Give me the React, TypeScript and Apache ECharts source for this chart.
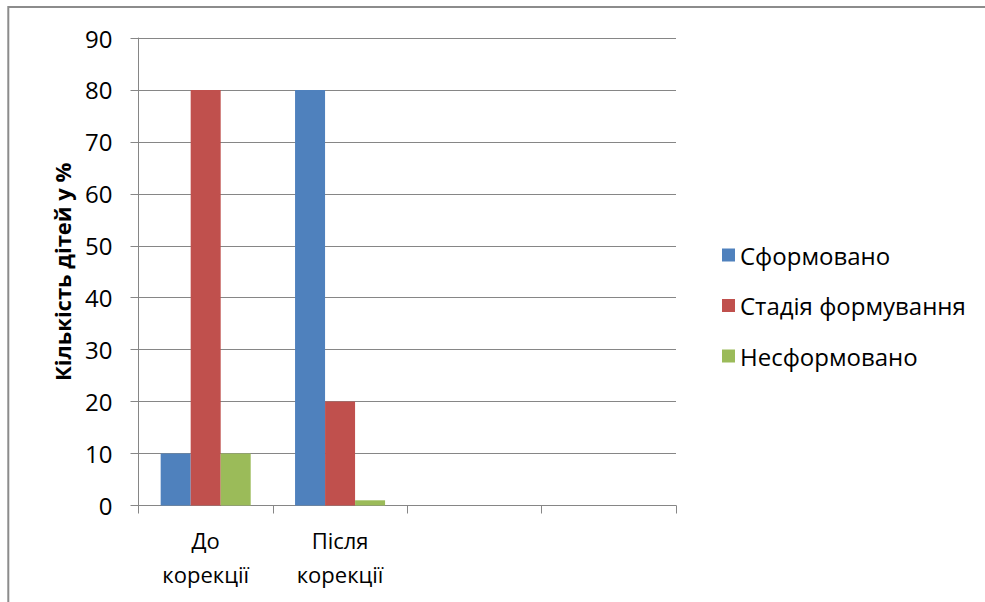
import React, { useEffect, useRef } from "react";
import * as echarts from "echarts";

// Categories (the last two are empty slots on the axis)
const categories: string[] = ["До\nкорекції", "Після\nкорекції", "", ""];

// Series values, % of children
const seriesNames: string[] = ["Сформовано", "Стадія формування", "Несформовано"];
const formed: number[] = [10, 80, 0];
const forming: number[] = [80, 20, 0];
const notFormed: number[] = [10, 1, 0];

const formedValues: (number | null)[] = [formed[0], formed[1], null, null];
const formingValues: (number | null)[] = [forming[0], forming[1], null, null];
const notFormedValues: (number | null)[] = [notFormed[0], notFormed[1], null, null];

const yAxisTitle = "Кількість дітей у %";

const colors = ["#4F81BD", "#C0504D", "#9BBB59"];
const gridColor = "#868686";
const fontFamily = "'Open Sans', 'Noto Sans', sans-serif";

export default function App() {
  const ref = useRef<HTMLDivElement>(null);

  useEffect(() => {
    if (!ref.current) return;
    const chart = echarts.init(ref.current, null, { renderer: "svg" });

    const option: echarts.EChartsOption = {
      animation: false,
      backgroundColor: "#ffffff",
      textStyle: { fontFamily },
      grid: { left: 138.5, right: 309, top: 38, bottom: 96.5, containLabel: false },
      legend: {
        orient: "vertical",
        left: 717,
        top: 237,
        itemWidth: 13,
        itemHeight: 13,
        itemGap: 24.5,
        icon: "rect",
        data: seriesNames,
        textStyle: { fontSize: 24, color: "#000", lineHeight: 26, fontFamily },
      },
      graphic: [
        {
          type: "rect",
          shape: { x: 8.3, y: 7, width: 1200, height: 900 },
          style: { fill: "none", stroke: "#8c8c8c", lineWidth: 2 },
          silent: true,
        },
      ],
      xAxis: {
        type: "category",
        data: categories,
        axisLine: { show: true, lineStyle: { color: gridColor, width: 1 } },
        axisTick: { show: true, alignWithLabel: false, length: 8, lineStyle: { color: gridColor } },
        axisLabel: {
          interval: 0,
          margin: 17,
          fontSize: 22,
          lineHeight: 34,
          color: "#000",
          fontFamily,
        },
      },
      yAxis: {
        type: "value",
        min: 0,
        max: 90,
        interval: 10,
        name: yAxisTitle,
        nameLocation: "middle",
        nameGap: 66,
        nameRotate: 90,
        nameTextStyle: { fontSize: 22, fontWeight: "bold", color: "#000", fontFamily },
        axisLine: { show: true, lineStyle: { color: gridColor, width: 1 } },
        axisTick: { show: true, length: 8, lineStyle: { color: gridColor } },
        axisLabel: { margin: 26, fontSize: 24, color: "#000", fontFamily },
        splitLine: { show: true, lineStyle: { color: gridColor, width: 1 } },
      },
      series: [
        {
          name: seriesNames[0],
          type: "bar",
          data: formedValues,
          itemStyle: { color: colors[0] },
          barGap: "0%",
          barCategoryGap: "33%",
        },
        {
          name: seriesNames[1],
          type: "bar",
          data: formingValues,
          itemStyle: { color: colors[1] },
          barGap: "0%",
          barCategoryGap: "33%",
        },
        {
          name: seriesNames[2],
          type: "bar",
          data: notFormedValues,
          itemStyle: { color: colors[2] },
          barGap: "0%",
          barCategoryGap: "33%",
        },
      ],
    };

    chart.setOption(option);
    return () => chart.dispose();
  }, []);

  return (
    <div
      ref={ref}
      style={{ position: "fixed", left: 0, top: 0, width: 985, height: 602, background: "#fff" }}
    />
  );
}
